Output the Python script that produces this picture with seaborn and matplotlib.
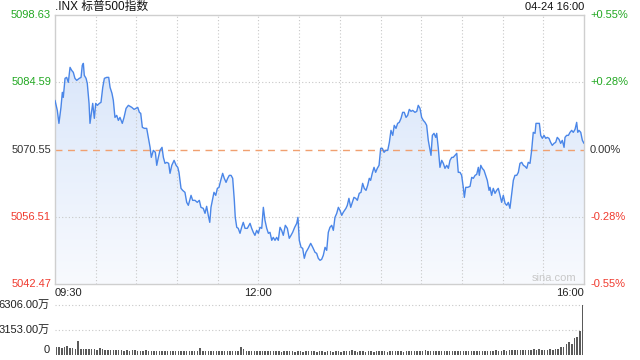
import numpy as np
import pandas as pd
import matplotlib
matplotlib.use("Agg")
import matplotlib.pyplot as plt
from matplotlib.colors import LinearSegmentedColormap
import seaborn as sns

# ---------------- data ----------------
title = ".INX 标普500指数"
stamp = "04-24 16:00"
prev_close = 5070.55
price_ticks = [5098.63, 5084.59, 5070.55, 5056.51, 5042.47]
pct_ticks = ["+0.55%", "+0.28%", "0.00%", "-0.28%", "-0.55%"]
time_labels = ["09:30", "12:00", "16:00"]
time_label_minutes = [0, 150, 390]
vol_ticks = [6306.0, 3153.0, 0]
vol_tick_labels = ["6306.00万", "3153.00万", "0"]

minutes = [0, 1.7, 2.9, 4.4, 5.4, 6.1, 7.4, 8.6, 9.8, 11.1, 12.3, 13.5, 14.7, 16.0, 17.9, 19.2,
           20.1, 20.9, 21.6, 22.9, 23.8, 25.1, 25.8, 27.1, 27.8, 29.0, 30.0, 31.2, 32.7, 33.9,
           35.2, 36.4, 38.1, 39.6, 40.6, 42.0, 43.0, 44.2, 45.5, 46.7, 47.9, 49.6, 50.9, 52.4,
           54.1, 56.6, 58.3, 59.7, 61.0, 62.2, 63.2, 64.4, 65.9, 67.6, 68.8, 70.1, 71.0, 72.5,
           74.0, 75.0, 76.2, 77.4, 78.9, 79.9, 81.1, 82.4, 83.8, 84.8, 86.1, 87.8, 89.3, 90.5,
           91.4, 92.9, 94.1, 95.8, 97.1, 98.3, 100.3, 101.5, 103.2, 104.9, 106.4, 107.6, 109.3,
           110.6, 111.8, 113.0, 114.1, 115.0, 116.3, 117.2, 118.5, 119.7, 120.9, 122.2, 123.6,
           124.8, 126.1, 127.3, 128.5, 129.8, 131.0, 132.2, 132.9, 134.0, 135.1, 136.4, 137.6,
           138.8, 140.1, 141.8, 143.8, 145.0, 146.2, 147.4, 148.7, 149.9, 151.1, 152.4, 153.6,
           154.8, 156.1, 157.3, 158.5, 159.8, 160.9, 162.2, 163.4, 164.6, 165.9, 167.1, 168.3,
           169.8, 171.3, 172.7, 174.0, 175.2, 176.7, 178.2, 179.1, 180.1, 181.4, 182.6, 183.8,
           185.0, 186.7, 188.5, 190.0, 191.7, 192.9, 194.1, 195.4, 196.6, 197.8, 199.1, 200.3,
           201.5, 202.7, 204.0, 205.2, 206.4, 207.7, 208.9, 210.1, 211.4, 212.5, 214.5, 215.5,
           216.7, 218.0, 219.2, 220.4, 221.7, 222.9, 224.3, 225.6, 226.8, 228.0, 229.3, 230.5,
           231.7, 232.7, 233.9, 235.2, 236.4, 237.6, 238.9, 240.1, 241.3, 242.6, 243.8, 245.3,
           246.5, 247.7, 249.0, 250.1, 251.4, 252.6, 253.8, 255.1, 256.3, 257.5, 258.8, 260.0,
           261.2, 262.5, 263.7, 265.4, 266.7, 267.8, 269.1, 270.3, 271.5, 272.8, 274.0, 275.2,
           276.5, 277.2, 278.2, 279.4, 280.7, 281.4, 282.6, 283.8, 285.1, 286.3, 287.5, 288.8,
           290.0, 291.2, 292.5, 293.6, 294.9, 296.2, 297.3, 298.6, 299.8, 301.0, 301.8, 302.8,
           304.3, 306.0, 307.2, 308.4, 309.7, 310.9, 312.1, 312.8, 313.9, 315.0, 316.3, 317.5,
           318.7, 320.0, 320.7, 321.9, 323.1, 324.4, 325.6, 326.8, 328.1, 329.3, 330.5, 331.8,
           333.0, 334.2, 335.4, 336.7, 337.9, 339.1, 340.4, 341.6, 342.8, 344.1, 345.3, 346.5,
           347.8, 348.9, 350.2, 351.4, 352.6, 353.9, 354.6, 355.9, 357.1, 358.1, 359.3, 360.5,
           361.8, 362.9, 364.2, 365.4, 366.6, 367.9, 369.1, 370.3, 371.6, 372.8, 374.0, 375.3,
           376.0, 377.2, 378.5, 379.7, 380.9, 382.1, 383.4, 384.6, 385.4, 386.3, 387.6, 388.8, 390.0]

prices = [5080.83, 5078.74, 5076.03, 5079.37, 5082.50, 5081.45, 5085.42, 5085.62, 5084.58, 5087.71,
          5087.08, 5086.67, 5085.42, 5085.00, 5085.42, 5085.62, 5088.13, 5088.54, 5086.04, 5085.42,
          5084.37, 5080.20, 5076.03, 5078.74, 5080.20, 5077.08, 5080.20, 5079.79, 5080.20, 5080.41,
          5083.54, 5085.42, 5085.62, 5085.62, 5083.54, 5082.29, 5080.83, 5077.28, 5077.70, 5076.66,
          5077.28, 5076.03, 5077.28, 5079.16, 5079.79, 5079.37, 5078.95, 5079.16, 5079.37, 5078.33,
          5078.12, 5075.20, 5074.99, 5074.99, 5073.11, 5071.03, 5068.94, 5070.40, 5069.99, 5067.28,
          5068.94, 5070.40, 5071.03, 5068.94, 5067.69, 5067.90, 5067.69, 5065.61, 5067.28, 5068.32,
          5067.28, 5066.86, 5065.82, 5062.48, 5062.06, 5061.65, 5059.56, 5058.94, 5061.02, 5059.98,
          5059.98, 5059.56, 5059.98, 5058.52, 5058.31, 5057.27, 5058.73, 5056.85, 5055.39, 5058.52,
          5060.40, 5061.65, 5061.02, 5062.48, 5062.69, 5064.15, 5065.61, 5064.57, 5063.73, 5064.57,
          5065.19, 5065.19, 5064.57, 5059.98, 5056.43, 5054.35, 5054.14, 5053.10, 5054.35, 5055.39,
          5054.14, 5054.14, 5055.18, 5054.14, 5053.31, 5052.68, 5053.72, 5053.10, 5054.35, 5054.14,
          5058.52, 5055.81, 5054.14, 5053.10, 5053.31, 5051.64, 5052.26, 5051.64, 5052.26, 5051.64,
          5054.35, 5053.72, 5052.68, 5054.77, 5054.14, 5052.06, 5052.68, 5053.31, 5054.35, 5055.18,
          5056.43, 5051.64, 5050.18, 5049.97, 5047.89, 5049.14, 5049.97, 5051.01, 5050.18, 5049.14,
          5048.93, 5047.89, 5047.47, 5047.68, 5048.51, 5050.18, 5049.55, 5053.31, 5054.35, 5054.77,
          5053.72, 5056.43, 5057.27, 5058.52, 5057.89, 5056.85, 5057.48, 5058.31, 5058.94, 5060.40,
          5058.52, 5059.56, 5060.60, 5060.40, 5059.98, 5061.44, 5061.65, 5063.52, 5062.48, 5062.06,
          5063.11, 5064.57, 5064.15, 5065.61, 5066.86, 5065.82, 5066.65, 5067.28, 5070.82, 5070.82,
          5069.99, 5070.40, 5070.40, 5072.07, 5074.57, 5073.53, 5075.62, 5074.99, 5076.03, 5076.24,
          5077.08, 5078.33, 5078.33, 5077.28, 5077.70, 5078.95, 5078.54, 5078.74, 5078.33, 5078.54,
          5079.79, 5079.16, 5077.28, 5076.66, 5076.24, 5075.62, 5072.49, 5070.40, 5069.36, 5073.53,
          5073.95, 5073.11, 5073.95, 5070.82, 5066.86, 5068.32, 5067.69, 5066.65, 5067.28, 5066.65,
          5068.32, 5068.94, 5068.94, 5069.36, 5069.78, 5065.82, 5065.82, 5065.19, 5062.69, 5060.60,
          5062.69, 5062.69, 5062.90, 5064.77, 5064.57, 5065.19, 5065.40, 5066.86, 5065.19, 5067.28,
          5066.65, 5066.23, 5065.19, 5064.15, 5062.06, 5062.69, 5061.02, 5062.48, 5061.44, 5062.06,
          5062.48, 5061.02, 5059.56, 5061.02, 5059.35, 5058.94, 5059.56, 5058.31, 5061.44, 5064.15,
          5065.19, 5065.19, 5065.82, 5067.69, 5067.90, 5067.28, 5067.07, 5066.65, 5067.90, 5067.69,
          5070.40, 5074.16, 5073.95, 5076.03, 5076.03, 5076.03, 5073.53, 5072.91, 5073.53, 5072.91,
          5073.11, 5072.91, 5072.07, 5071.45, 5071.86, 5072.07, 5073.11, 5072.70, 5071.86, 5072.49,
          5071.03, 5073.11, 5073.53, 5073.53, 5074.16, 5074.57, 5074.16, 5074.78, 5076.24, 5074.16,
          5074.57, 5074.16, 5072.49, 5071.86]

vol_minutes = list(range(1, 390, 2))
volumes = [1000, 1050, 900, 950, 1100, 850, 900, 700, 1750, 800,
           750, 780, 700, 800, 720, 650, 820, 700, 680, 640,
           620, 600, 650, 580, 600, 560, 620, 540, 580, 600,
           560, 520, 540, 600, 520, 500, 560, 540, 500, 520,
           480, 520, 500, 540, 480, 500, 470, 520, 500, 460,
           500, 480, 460, 850, 480, 500, 470, 450, 500, 480,
           460, 500, 480, 520, 460, 480, 500, 460, 950, 700,
           520, 500, 480, 460, 500, 480, 540, 480, 500, 460,
           450, 480, 500, 440, 470, 460, 500, 450, 430, 470,
           480, 440, 460, 500, 450, 470, 430, 460, 480, 440,
           450, 470, 430, 460, 490, 440, 460, 450, 480, 650,
           460, 440, 470, 450, 430, 480, 460, 440, 470, 450,
           500, 460, 440, 480, 450, 470, 490, 460, 440, 480,
           460, 450, 480, 470, 500, 460, 640, 480, 470, 450,
           490, 460, 480, 500, 470, 520, 480, 500, 470, 510,
           490, 560, 500, 480, 520, 500, 540, 500, 520, 560,
           520, 540, 580, 540, 560, 600, 560, 580, 620, 600,
           640, 600, 660, 620, 680, 640, 700, 660, 720, 680,
           680, 620, 720, 650, 800, 700, 950, 1000, 1350, 1600,
           1450, 2200, 2250, 3050, 6306]

# ---------------- style ----------------
sns.set_theme(style="white")
plt.rcParams["font.family"] = ["Liberation Sans", "Noto Sans CJK SC", "DejaVu Sans"]

W, H = 640, 360
fig = plt.figure(figsize=(6.4, 3.6), dpi=100)
fig.patch.set_facecolor("white")

L, R = 55, 584
ax = fig.add_axes([L / W, 1 - 284.3 / H, (R - L) / W, (284.3 - 15) / H])
axv = fig.add_axes([L / W, 1 - 355 / H, (R - L) / W, 50 / H])

ymin, ymax = price_ticks[-1], price_ticks[0]
t0, t1 = time_label_minutes[0], time_label_minutes[-1]

df = pd.DataFrame({"t": minutes, "p": prices})

# gradient area under line
poly = ax.fill_between(df["t"], df["p"], ymin, facecolor="none", edgecolor="none")
grad = np.linspace(0, 1, 256).reshape(-1, 1)
cmap = LinearSegmentedColormap.from_list("g", ["#f8fafe", "#d3e2f9"])
im = ax.imshow(grad, extent=[t0, t1, ymin, ymax], origin="lower", aspect="auto",
               cmap=cmap, zorder=1, interpolation="bilinear")
im.set_clip_path(poly.get_paths()[0], transform=ax.transData)

sns.lineplot(data=df, x="t", y="p", ax=ax, color="#4a86e8", linewidth=1.0,
             sort=False, estimator=None, zorder=3)

ax.set_xlim(t0, t1)
ax.set_ylim(ymin, ymax)
ax.set_xlabel("")
ax.set_ylabel("")
ax.set_xticks([])
ax.set_yticks([])
for s in ax.spines.values():
    s.set_color("#cfcfcf")
    s.set_linewidth(1.0)

# grid
for m in range(30, 390, 30):
    ax.axvline(m, color="#c8c8c8", linestyle=(0, (1, 2)), linewidth=0.8, zorder=2)
for p in price_ticks[1:-1]:
    if p == prev_close:
        ax.axhline(p, color="#f0a070", linestyle=(0, (5, 4)), linewidth=1.0, zorder=2)
    else:
        ax.axhline(p, color="#c8c8c8", linestyle=(0, (1, 2)), linewidth=0.8, zorder=2)

green, red, dark = "#22a822", "#f03a2e", "#333333"
colors = [green, green, dark, red, red]
for p, c, pct in zip(price_ticks, colors, pct_ticks):
    ax.text(-4 / (R - L), p, f"{p:.2f}", transform=ax.get_yaxis_transform(),
            ha="right", va="center", fontsize=8, color=c)
    ax.text(1 + 6 / (R - L), p, pct, transform=ax.get_yaxis_transform(),
            ha="left", va="center", fontsize=8, color=c)

# time labels
has = ["left", "center", "right"]
for m, lab, ha in zip(time_label_minutes, time_labels, has):
    ax.text(m, -8.5 / 269.3, lab, transform=ax.get_xaxis_transform(),
            ha=ha, va="center", fontsize=8, color="#222222")

ax.text(0.985, 0.025, "sina.com", transform=ax.transAxes, ha="right", va="center",
        fontsize=8, color="#c8c8c8")

fig.text(L / W, 1 - 7 / H, title, ha="left", va="center", fontsize=8.5, color="#111111")
fig.text(R / W, 1 - 7 / H, stamp, ha="right", va="center", fontsize=8, color="#111111")

# volume panel
vdf = pd.DataFrame({"t": vol_minutes, "v": volumes})
sns.barplot(data=vdf, x="t", y="v", ax=axv, native_scale=True, color="#5a5a5a",
            saturation=1, width=0.55, linewidth=0, zorder=3)
axv.set_xlim(t0, t1)
axv.set_ylim(0, vol_ticks[0])
axv.set_xticks([])
axv.set_yticks([])
axv.set_xlabel("")
axv.set_ylabel("")
for s in axv.spines.values():
    s.set_visible(False)
for v in vol_ticks[:2]:
    axv.axhline(v, color="#c8c8c8", linestyle=(0, (1, 2)), linewidth=0.8, zorder=1,
                clip_on=False)
for v, lab in zip(vol_ticks, vol_tick_labels):
    yy = v if v > 0 else 600
    axv.text(-5 / (R - L), yy, lab, transform=axv.get_yaxis_transform(),
             ha="right", va="center", fontsize=8, color="#222222")

fig.savefig("out.png", dpi=100, facecolor="white")
